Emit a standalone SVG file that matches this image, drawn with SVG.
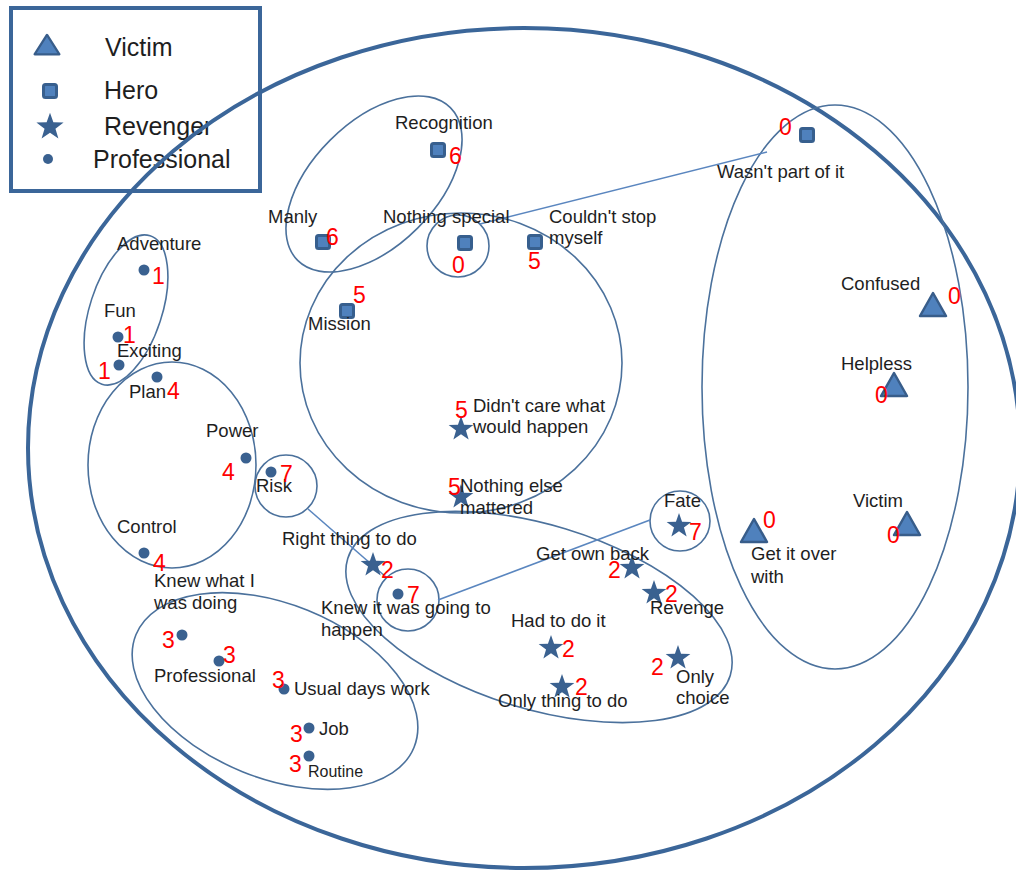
<svg xmlns="http://www.w3.org/2000/svg" xmlns:xlink="http://www.w3.org/1999/xlink" width="1016" height="870" viewBox="0 0 1016 870">
<style>
.big{fill:none;stroke:#3b6699;stroke-width:4}
.grp{fill:none;stroke:#4b719c;stroke-width:1.6}
.con{fill:none;stroke:#5a86bf;stroke-width:1.6}
.lbl{font-family:"Liberation Sans",Arial,sans-serif;font-size:18.5px;fill:#1e1e1e}
.leg{font-family:"Liberation Sans",Arial,sans-serif;font-size:25px;fill:#1e1e1e}
.num{font-family:"Liberation Sans",Arial,sans-serif;font-size:23px;fill:#ff0000}
.sq{fill:#4f81bd;stroke:#375f8e;stroke-width:3}
.tri{fill:#4f81bd;stroke:#385d8a;stroke-width:2.5;stroke-linejoin:round}
.st{fill:#3a6190}
.dot{fill:#3a6190}
</style>
<defs>
<rect id="sqr" x="-6.5" y="-6.5" width="13" height="13" rx="2"/>
<path id="triangle" d="M0,-12 L13,11 L-13,11 Z"/>
<path id="star" d="M0,-13 L3.06,-4.21 L12.36,-4.02 L4.95,1.61 L7.64,10.52 L0,5.2 L-7.64,10.52 L-4.95,1.61 L-12.36,-4.02 L-3.06,-4.21 Z"/>
</defs>

<g id="legend">
<rect x="11" y="8" width="249" height="183" fill="none" stroke="#3b6699" stroke-width="4"/>
<use xlink:href="#triangle" class="tri" transform="translate(47,45) scale(0.95,0.85)"/>
<text class="leg" x="105" y="56">Victim</text>
<use xlink:href="#sqr" class="sq" x="50" y="91"/>
<text class="leg" x="104" y="99">Hero</text>
<use xlink:href="#star" class="st" transform="translate(50,127) scale(1.1)"/>
<text class="leg" x="104" y="135">Revenger</text>
<circle class="dot" cx="48" cy="159" r="5"/>
<text class="leg" x="93" y="168">Professional</text>
</g>

<g id="groups">
<ellipse id="outer" class="big" cx="524" cy="448" rx="496" ry="420"/>
<ellipse class="grp" cx="374" cy="184" rx="108" ry="62" transform="rotate(-45 374 184)"/>
<circle class="grp" cx="458" cy="246" r="31"/>
<ellipse class="grp" cx="461" cy="363" rx="161" ry="150"/>
<ellipse class="grp" cx="126" cy="310" rx="36" ry="78" transform="rotate(18 126 310)"/>
<ellipse class="grp" cx="172" cy="465" rx="84" ry="103"/>
<circle class="grp" cx="286" cy="486" r="31"/>
<ellipse class="grp" cx="539" cy="617" rx="200" ry="92" transform="rotate(17 539 617)"/>
<circle class="grp" cx="408" cy="600" r="31"/>
<circle class="grp" cx="680" cy="521" r="30"/>
<ellipse class="grp" cx="275" cy="691" rx="150" ry="87" transform="rotate(22 275 691)"/>
<ellipse class="grp" cx="835" cy="387" rx="133" ry="282"/>
</g>

<g id="connectors">
<line class="con" x1="480" y1="224" x2="767" y2="152"/>
<line class="con" x1="308" y1="509" x2="386" y2="577"/>
<line class="con" x1="438" y1="600" x2="650" y2="520"/>
</g>

<g id="n-recognition"><use xlink:href="#sqr" class="sq" x="438" y="150"/><text class="lbl" x="395" y="129">Recognition</text><text class="num" x="449" y="164">6</text></g>
<g id="n-manly"><use xlink:href="#sqr" class="sq" x="323" y="242"/><text class="lbl" x="268" y="223">Manly</text><text class="num" x="326" y="245">6</text></g>
<g id="n-nothing-special"><use xlink:href="#sqr" class="sq" x="465" y="243"/><text class="lbl" x="383" y="223">Nothing special</text><text class="num" x="452" y="273">0</text></g>
<g id="n-couldnt-stop"><use xlink:href="#sqr" class="sq" x="535" y="242"/><text class="lbl" x="549" y="223">Couldn't stop</text><text class="lbl" x="549" y="244">myself</text><text class="num" x="528" y="269">5</text></g>
<g id="n-mission"><use xlink:href="#sqr" class="sq" x="347" y="311"/><text class="lbl" x="308" y="330">Mission</text><text class="num" x="353" y="303">5</text></g>
<g id="n-wasnt-part"><use xlink:href="#sqr" class="sq" x="807" y="135"/><text class="lbl" x="717" y="178">Wasn't part of it</text><text class="num" x="779" y="135">0</text></g>

<g id="n-confused"><use xlink:href="#triangle" class="tri" x="933" y="305"/><text class="lbl" x="841" y="290">Confused</text><text class="num" x="948" y="304">0</text></g>
<g id="n-helpless"><use xlink:href="#triangle" class="tri" x="894" y="385"/><text class="lbl" x="841" y="370">Helpless</text><text class="num" x="875" y="403">0</text></g>
<g id="n-victim"><use xlink:href="#triangle" class="tri" x="907" y="524"/><text class="lbl" x="853" y="507">Victim</text><text class="num" x="887" y="543">0</text></g>
<g id="n-get-it-over"><use xlink:href="#triangle" class="tri" x="754" y="531"/><text class="lbl" x="751" y="560">Get it over</text><text class="lbl" x="751" y="583">with</text><text class="num" x="763" y="528">0</text></g>

<g id="n-adventure"><circle class="dot" cx="144" cy="270" r="5.5"/><text class="lbl" x="117" y="250">Adventure</text><text class="num" x="152" y="284">1</text></g>
<g id="n-fun"><circle class="dot" cx="118" cy="337" r="5.5"/><text class="lbl" x="104" y="317">Fun</text><text class="num" x="123" y="343">1</text></g>
<g id="n-exciting"><circle class="dot" cx="119" cy="365" r="5.5"/><text class="lbl" x="117" y="357">Exciting</text><text class="num" x="98" y="379">1</text></g>
<g id="n-plan"><circle class="dot" cx="157" cy="377" r="5.5"/><text class="lbl" x="129" y="398">Plan</text><text class="num" x="167" y="399">4</text></g>
<g id="n-power"><circle class="dot" cx="246" cy="458" r="5.5"/><text class="lbl" x="206" y="437">Power</text><text class="num" x="222" y="480">4</text></g>
<g id="n-risk"><circle class="dot" cx="271" cy="472" r="5.5"/><text class="lbl" x="256" y="492">Risk</text><text class="num" x="280" y="482">7</text></g>
<g id="n-control"><circle class="dot" cx="144" cy="553" r="5.5"/><text class="lbl" x="117" y="533">Control</text><text class="num" x="153" y="571">4</text></g>

<g id="n-didnt-care"><use xlink:href="#star" class="st" x="461" y="429"/><text class="lbl" x="473" y="412">Didn't care what</text><text class="lbl" x="473" y="433">would happen</text><text class="num" x="455" y="418">5</text></g>
<g id="n-nothing-else"><use xlink:href="#star" class="st" x="461" y="497"/><text class="lbl" x="460" y="492">Nothing else</text><text class="lbl" x="460" y="514">mattered</text><text class="num" x="448" y="495">5</text></g>
<g id="n-right-thing"><use xlink:href="#star" class="st" x="373" y="565"/><text class="lbl" x="282" y="545">Right thing to do</text><text class="num" x="381" y="578">2</text></g>
<g id="n-knew-it"><circle class="dot" cx="398" cy="594" r="5.5"/><text class="lbl" x="321" y="614">Knew it was going to</text><text class="lbl" x="321" y="636">happen</text><text class="num" x="407" y="603">7</text></g>
<g id="n-fate"><use xlink:href="#star" class="st" x="679" y="526"/><text class="lbl" x="664" y="507">Fate</text><text class="num" x="689" y="540">7</text></g>
<g id="n-get-own-back"><use xlink:href="#star" class="st" x="632" y="568"/><text class="lbl" x="536" y="560">Get own back</text><text class="num" x="608" y="578">2</text></g>
<g id="n-revenge"><use xlink:href="#star" class="st" x="654" y="593"/><text class="lbl" x="650" y="614">Revenge</text><text class="num" x="665" y="602">2</text></g>
<g id="n-had-to"><use xlink:href="#star" class="st" x="551" y="648"/><text class="lbl" x="511" y="627">Had to do it</text><text class="num" x="562" y="657">2</text></g>
<g id="n-only-thing"><use xlink:href="#star" class="st" x="562" y="687"/><text class="lbl" x="498" y="707">Only thing to do</text><text class="num" x="575" y="695">2</text></g>
<g id="n-only-choice"><use xlink:href="#star" class="st" x="678" y="658"/><text class="lbl" x="676" y="683">Only</text><text class="lbl" x="676" y="704">choice</text><text class="num" x="651" y="675">2</text></g>

<g id="n-knew-what"><circle class="dot" cx="182" cy="635" r="5.5"/><text class="lbl" x="154" y="587">Knew what I</text><text class="lbl" x="154" y="609">was doing</text><text class="num" x="162" y="648">3</text></g>
<g id="n-professional"><circle class="dot" cx="219" cy="661" r="5.5"/><text class="lbl" x="154" y="682">Professional</text><text class="num" x="223" y="663">3</text></g>
<g id="n-usual"><circle class="dot" cx="284" cy="689" r="5.5"/><text class="lbl" x="294" y="695">Usual days work</text><text class="num" x="272" y="688">3</text></g>
<g id="n-job"><circle class="dot" cx="309" cy="728" r="5.5"/><text class="lbl" x="319" y="735">Job</text><text class="num" x="290" y="742">3</text></g>
<g id="n-routine"><circle class="dot" cx="309" cy="756" r="5.5"/><text class="lbl" x="308" y="777" style="font-size:16px">Routine</text><text class="num" x="289" y="772">3</text></g>
</svg>
